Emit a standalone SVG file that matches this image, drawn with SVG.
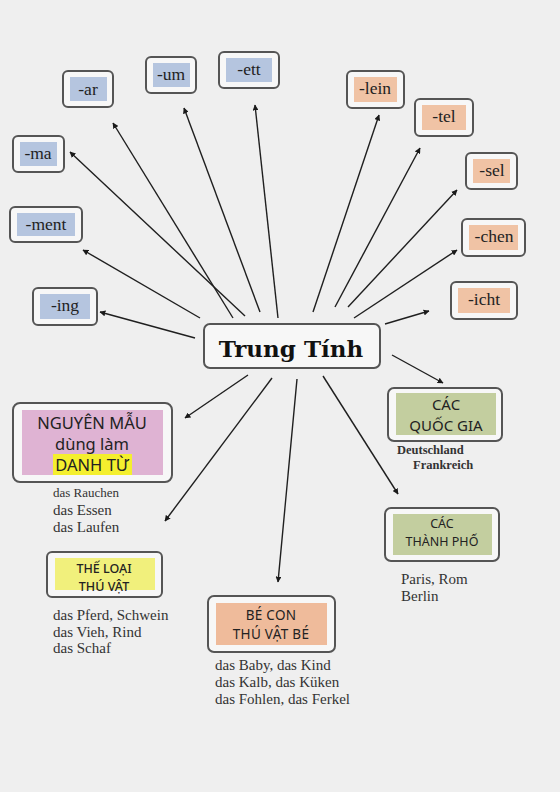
<svg xmlns="http://www.w3.org/2000/svg" width="560" height="792" viewBox="0 0 560 792">
<defs>
<marker id="ah" viewBox="0 0 10 10" refX="9" refY="5" markerWidth="6" markerHeight="6" markerUnits="userSpaceOnUse" orient="auto"><path d="M0,0 L10,5 L0,10 z" fill="#1a1a1a"/></marker>
<style>
.outer{fill:#f7f7f7;stroke:#555;stroke-width:2}
.blue{fill:#b5c5df}
.orange{fill:#f0c3a5}
.pink{fill:#dfb3d3}
.yel{fill:#f1f07c}
.hl{fill:#f4ef2e}
.peach{fill:#efbb9b}
.green{fill:#c3ce9f}
.suf{font-family:"Liberation Serif",serif;font-size:17.5px;fill:#222;text-anchor:middle}
.vn{font-family:"Noto Sans",sans-serif;fill:#222;text-anchor:middle}
.ex{font-family:"Liberation Serif",serif;fill:#333}
.exs{font-family:"Liberation Serif",serif;font-size:12.5px;fill:#333;font-weight:bold}
.con line{stroke:#1f1f1f;stroke-width:1.4;marker-end:url(#ah)}
</style>
</defs>
<rect width="560" height="792" fill="#efefef"/>

<g class="con">
<line x1="233" y1="318" x2="113" y2="123"/>
<line x1="260" y1="312" x2="184" y2="108"/>
<line x1="278" y1="318" x2="255" y2="105"/>
<line x1="245" y1="316" x2="70" y2="152"/>
<line x1="200" y1="318" x2="83" y2="250"/>
<line x1="195" y1="338" x2="100" y2="312"/>
<line x1="313" y1="312" x2="379" y2="115"/>
<line x1="335" y1="307" x2="420" y2="148"/>
<line x1="348" y1="307" x2="457" y2="190"/>
<line x1="354" y1="318" x2="457" y2="250"/>
<line x1="385" y1="324" x2="429" y2="311"/>
<line x1="248" y1="375" x2="185" y2="418"/>
<line x1="272" y1="378" x2="165" y2="521"/>
<line x1="297" y1="379" x2="278" y2="582"/>
<line x1="392" y1="355" x2="443" y2="383"/>
<line x1="323" y1="376" x2="398" y2="494"/>
</g>

<g id="center">
<rect x="204" y="324" width="176" height="44" rx="6" class="outer"/>
<text x="291" y="357" font-family="DejaVu Serif,serif" font-size="23" font-weight="bold" fill="#111" text-anchor="middle">Trung Tính</text>
</g>

<g id="ar"><rect x="63" y="71" width="50" height="36" rx="5" class="outer"/><rect x="70" y="77" width="37" height="24" class="blue"/><text x="88" y="95" class="suf">-ar</text></g>
<g id="um"><rect x="146" y="57" width="50" height="36" rx="5" class="outer"/><rect x="153" y="63" width="37" height="24" class="blue"/><text x="171" y="80" class="suf">-um</text></g>
<g id="ett"><rect x="219" y="52" width="60" height="36" rx="5" class="outer"/><rect x="226" y="58" width="46" height="24" class="blue"/><text x="249" y="75" class="suf">-ett</text></g>
<g id="ma"><rect x="13" y="136" width="51" height="36" rx="5" class="outer"/><rect x="20" y="142" width="37" height="24" class="blue"/><text x="38" y="159" class="suf">-ma</text></g>
<g id="ment"><rect x="10" y="207" width="72" height="35" rx="5" class="outer"/><rect x="17" y="213" width="58" height="23" class="blue"/><text x="46" y="230" class="suf">-ment</text></g>
<g id="ing"><rect x="33" y="288" width="64" height="37" rx="5" class="outer"/><rect x="40" y="294" width="50" height="25" class="blue"/><text x="65" y="311" class="suf">-ing</text></g>

<g id="lein"><rect x="347" y="71" width="57" height="37" rx="5" class="outer"/><rect x="354" y="77" width="43" height="25" class="orange"/><text x="375" y="94" class="suf">-lein</text></g>
<g id="tel"><rect x="415" y="99" width="58" height="37" rx="5" class="outer"/><rect x="422" y="105" width="44" height="25" class="orange"/><text x="444" y="122" class="suf">-tel</text></g>
<g id="sel"><rect x="466" y="153" width="51" height="36" rx="5" class="outer"/><rect x="473" y="159" width="37" height="24" class="orange"/><text x="492" y="176" class="suf">-sel</text></g>
<g id="chen"><rect x="462" y="219" width="63" height="37" rx="5" class="outer"/><rect x="469" y="225" width="49" height="25" class="orange"/><text x="494" y="242" class="suf">-chen</text></g>
<g id="icht"><rect x="451" y="282" width="66" height="37" rx="5" class="outer"/><rect x="458" y="288" width="52" height="25" class="orange"/><text x="484" y="305" class="suf">-icht</text></g>

<g id="nguyen">
<rect x="13" y="403" width="159" height="79" rx="7" class="outer"/>
<rect x="22" y="410" width="141" height="65" class="pink"/>
<rect x="53" y="454" width="79" height="21" class="hl"/>
<text x="92" y="429" class="vn" style="font-size:16.5px">NGUYÊN MẪU</text>
<text x="92" y="450" class="vn" style="font-size:16.5px">dùng làm</text>
<text x="92" y="471" class="vn" style="font-size:16.5px">DANH TỪ</text>
<text x="53" y="497" class="ex" style="font-size:13px">das Rauchen</text>
<text x="53" y="515" class="ex" style="font-size:15px">das Essen</text>
<text x="53" y="532" class="ex" style="font-size:15px">das Laufen</text>
</g>

<g id="theloai">
<rect x="47" y="552" width="115" height="45" rx="5" class="outer"/>
<rect x="55" y="558" width="100" height="32" class="yel"/>
<text x="104" y="573" class="vn" style="font-size:12.5px;font-weight:500">THẾ LOẠI</text>
<text x="104" y="591" class="vn" style="font-size:12.5px;font-weight:500">THÚ VẬT</text>
<text x="53" y="620" class="ex" style="font-size:15px">das Pferd, Schwein</text>
<text x="53" y="637" class="ex" style="font-size:15px">das Vieh, Rind</text>
<text x="53" y="653" class="ex" style="font-size:15px">das Schaf</text>
</g>

<g id="becon">
<rect x="208" y="596" width="127" height="56" rx="6" class="outer"/>
<rect x="216" y="603" width="111" height="42" class="peach"/>
<text x="271" y="619.5" class="vn" style="font-size:13.5px;letter-spacing:0.3px">BÉ CON</text>
<text x="271" y="638.5" class="vn" style="font-size:13.5px;letter-spacing:0.3px">THÚ VẬT BÉ</text>
<text x="215" y="670" class="ex" style="font-size:15px">das Baby, das Kind</text>
<text x="215" y="687" class="ex" style="font-size:15px">das Kalb, das Küken</text>
<text x="215" y="704" class="ex" style="font-size:15px">das Fohlen, das Ferkel</text>
</g>

<g id="quocgia">
<rect x="388" y="388" width="114" height="53" rx="6" class="outer"/>
<rect x="396" y="393" width="100" height="42" class="green"/>
<text x="446" y="410" class="vn" style="font-size:15px">CÁC</text>
<text x="446" y="431" class="vn" style="font-size:15px">QUỐC GIA</text>
<text x="397" y="454" class="exs">Deutschland</text>
<text x="413" y="469" class="exs">Frankreich</text>
</g>

<g id="thanhpho">
<rect x="385" y="508" width="114" height="53" rx="6" class="outer"/>
<rect x="393" y="514" width="99" height="41" class="green"/>
<text x="442" y="528" class="vn" style="font-size:12.5px">CÁC</text>
<text x="442" y="546" class="vn" style="font-size:12.5px">THÀNH PHỐ</text>
<text x="401" y="584" class="ex" style="font-size:15px">Paris, Rom</text>
<text x="401" y="601" class="ex" style="font-size:15px">Berlin</text>
</g>
</svg>
